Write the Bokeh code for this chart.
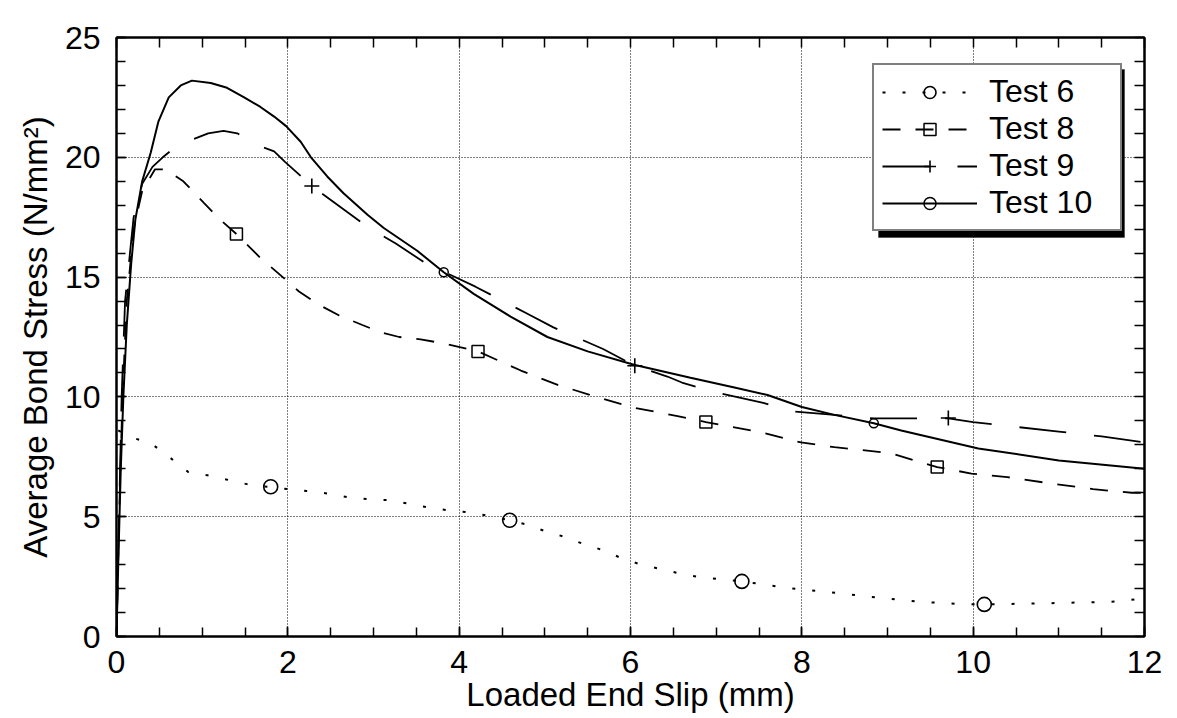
from bokeh.plotting import figure
from bokeh.models import LinearAxis, Legend, LegendItem, FixedTicker, Range1d, BoxAnnotation
from bokeh.embed import file_html
from bokeh.resources import INLINE

# ---- data ----
x_ticks = [0, 2, 4, 6, 8, 10, 12]
y_ticks = [0, 5, 10, 15, 20, 25]

test6_x = [0.02, 0.18, 0.4, 0.63, 0.84, 1.06, 1.31, 1.52, 1.8, 2.22, 2.44, 2.69, 2.93, 3.17,
           3.39, 3.62, 3.86, 4.08, 4.31, 4.59, 4.77, 5.01, 5.21, 5.46, 5.68, 5.9, 6.15, 6.38,
           6.61, 6.83, 7.07, 7.3, 7.54, 7.77, 7.99, 8.5, 9.0, 9.37, 9.82, 10.13, 10.76, 11.26,
           11.69, 12.0]
test6_y = [8.6, 8.3, 8.07, 7.45, 6.86, 6.73, 6.53, 6.36, 6.23, 6.07, 5.98, 5.82, 5.73, 5.69,
           5.56, 5.4, 5.27, 5.19, 5.06, 4.85, 4.69, 4.39, 4.18, 3.85, 3.6, 3.26, 2.97, 2.8,
           2.59, 2.47, 2.38, 2.3, 2.18, 2.05, 1.97, 1.78, 1.58, 1.45, 1.36, 1.34, 1.38, 1.42,
           1.46, 1.6]
test6_mx = [1.8, 4.59, 7.3, 10.13]
test6_my = [6.25, 4.85, 2.3, 1.34]

test8_x = [0, 0.03, 0.07, 0.12, 0.2, 0.3, 0.45, 0.57, 0.78, 1.02, 1.21, 1.4, 1.68, 1.94, 2.13,
           2.36, 2.6, 2.87, 3.08, 3.3, 3.55, 3.79, 4.22, 4.72, 5.15, 5.65, 6.04, 6.55, 6.88,
           7.49, 7.99, 8.38, 9.04, 9.3, 9.58, 9.98, 10.4, 10.88, 11.4, 11.85, 12.0]
test8_y = [0, 5, 10, 14, 17, 18.6, 19.5, 19.5, 19.0, 18.1, 17.4, 16.8, 15.8, 15.0, 14.4,
           13.85, 13.4, 13.0, 12.7, 12.5, 12.4, 12.25, 11.9, 11.1, 10.5, 9.95, 9.55, 9.2, 8.95,
           8.55, 8.1, 7.9, 7.65, 7.36, 7.07, 6.8, 6.65, 6.4, 6.15, 6.0, 6.0]
test8_mx = [1.4, 4.22, 6.88, 9.58]
test8_my = [16.8, 11.9, 8.95, 7.07]

test9_x = [0, 0.03, 0.06, 0.1, 0.2, 0.3, 0.42, 0.54, 0.71, 0.86, 1.07, 1.25, 1.41, 1.65, 1.84,
           1.97, 2.28, 2.93, 3.26, 3.6, 4.19, 4.78, 5.1, 5.68, 6.05, 6.43, 6.6, 6.98, 7.55,
           7.87, 8.38, 8.85, 9.3, 9.71, 10.0, 10.5, 11.0, 11.5, 12.0]
test9_y = [0, 5, 10, 14, 17.5, 18.9, 19.6, 20.0, 20.5, 20.7, 21.0, 21.1, 21.0, 20.5, 20.25,
           19.8, 18.8, 17.1, 16.4, 15.6, 14.6, 13.5, 12.9, 12.0, 11.3, 10.85, 10.6, 10.2, 9.75,
           9.4, 9.25, 9.1, 9.1, 9.1, 8.95, 8.75, 8.55, 8.35, 8.1]
test9_mx = [2.28, 6.05, 9.71]
test9_my = [18.8, 11.3, 9.12]

test10_x = [0, 0.02, 0.05, 0.08, 0.12, 0.17, 0.22, 0.3, 0.4, 0.49, 0.61, 0.75, 0.88, 1.1, 1.29,
            1.49, 1.68, 1.84, 1.98, 2.15, 2.27, 2.46, 2.65, 2.93, 3.12, 3.51, 3.82, 4.17, 4.6,
            5.03, 5.5, 6.04, 6.7, 7.2, 7.6, 8.0, 8.38, 8.84, 9.16, 10.06, 11.0, 12.0]
test10_y = [0, 3, 7, 10, 13, 15.5, 17.4, 19.0, 20.2, 21.5, 22.5, 23.0, 23.2, 23.1, 22.9,
            22.5, 22.1, 21.7, 21.3, 20.65, 20.0, 19.2, 18.5, 17.6, 17.05, 16.1, 15.2, 14.3, 13.35,
            12.5, 11.9, 11.34, 10.8, 10.4, 10.08, 9.58, 9.25, 8.9, 8.6, 7.85, 7.35, 7.0]
test10_mx = [3.82, 8.84]
test10_my = [15.2, 8.9]

labels = ["Test 6", "Test 8", "Test 9", "Test 10"]

FONT = "Liberation Sans"
TICK_FS = "32px"
LABEL_FS = "33px"
LEG_FS = "32px"

p = figure(width=1170, height=716, x_range=Range1d(0, 12), y_range=Range1d(0, 25),
           output_backend="svg", toolbar_location=None,
           min_border_left=116, min_border_top=37, min_border_right=26, min_border_bottom=80)
p.background_fill_color = "white"
p.border_fill_color = "white"
p.outline_line_color = "black"
p.outline_line_width = 2

x_minor = [i * 0.5 for i in range(25)]
y_minor = list(range(26))
xt = FixedTicker(ticks=x_ticks, minor_ticks=x_minor)
yt = FixedTicker(ticks=y_ticks, minor_ticks=y_minor)

def style_axis(ax):
    ax.axis_line_color = "black"
    ax.axis_line_width = 2
    ax.major_tick_in = 10
    ax.major_tick_out = 0
    ax.minor_tick_in = 9
    ax.minor_tick_out = 0
    ax.major_tick_line_width = 1.5
    ax.minor_tick_line_width = 1.5
    ax.major_tick_line_color = "black"
    ax.minor_tick_line_color = "black"
    ax.major_label_text_font = FONT
    ax.major_label_text_color = "black"
    ax.major_label_text_font_size = TICK_FS
    ax.axis_label_text_font = FONT
    ax.axis_label_text_font_style = "normal"
    ax.axis_label_text_color = "black"
    ax.axis_label_text_font_size = LABEL_FS

p.xaxis.ticker = xt
p.yaxis.ticker = yt
style_axis(p.xaxis[0])
style_axis(p.yaxis[0])
p.xaxis.axis_label = "Loaded End Slip (mm)"
p.yaxis.axis_label = "Average Bond Stress (N/mm\u00b2)"
p.xaxis.major_label_standoff = 14
p.xaxis.axis_label_standoff = 0
p.yaxis.major_label_standoff = 16
p.yaxis.axis_label_standoff = 8

# mirrored tick marks on top and right (all as minor ticks, so no labels)
top_ax = LinearAxis(ticker=FixedTicker(ticks=[], minor_ticks=x_minor))
right_ax = LinearAxis(ticker=FixedTicker(ticks=[], minor_ticks=y_minor))
style_axis(top_ax)
style_axis(right_ax)
top_ax.minor_tick_in = 10
right_ax.minor_tick_in = 10
p.add_layout(top_ax, "above")
p.add_layout(right_ax, "right")

for g in (p.xgrid, p.ygrid):
    g.grid_line_color = "black"
    g.grid_line_width = 1
    g.grid_line_dash = "1 2"
p.xgrid.ticker = xt
p.ygrid.ticker = yt

# ---- series ----
l6 = p.line(test6_x, test6_y, line_color="black", line_width=2, line_dash="3 17")
m6 = p.scatter(test6_mx, test6_my, marker="circle", size=14, fill_color=None,
               line_color="black", line_width=1.6)
l8 = p.line(test8_x, test8_y, line_color="black", line_width=1.8, line_dash="18 15")
m8 = p.scatter(test8_mx, test8_my, marker="square", size=12, fill_color=None,
               line_color="black", line_width=1.5)
l9 = p.line(test9_x, test9_y, line_color="black", line_width=1.8, line_dash="47 28")
m9 = p.scatter(test9_mx, test9_my, marker="cross", size=15, fill_color=None,
               line_color="black", line_width=1.6)
l10 = p.line(test10_x, test10_y, line_color="black", line_width=2)
m10 = p.scatter(test10_mx, test10_my, marker="circle", size=9, fill_color=None,
                line_color="black", line_width=1.5)

rends = [[l6, m6], [l8, m8], [l9, m9], [l10, m10]]

# legend geometry (screen px relative to the plot frame)
LEG_PAD = 8
LEG_GLYPH_W = 95
LEG_STANDOFF = 12
LEG_LABEL_W = 123
LEG_W = 2 * LEG_PAD + LEG_GLYPH_W + LEG_STANDOFF + LEG_LABEL_W
LEG_H = 168
LEG_X, LEG_Y = 756, 405
SHADOW = 6

shadow = BoxAnnotation(left=LEG_X + SHADOW, right=LEG_X + LEG_W + SHADOW,
                       bottom=LEG_Y - SHADOW, top=LEG_Y + LEG_H - SHADOW,
                       left_units="screen", right_units="screen",
                       bottom_units="screen", top_units="screen",
                       fill_color="black", fill_alpha=1.0, line_color="black")
p.add_layout(shadow)

items = [LegendItem(label=lab, renderers=r) for lab, r in zip(labels, rends)]
lg = Legend(items=items, location=(LEG_X, LEG_Y), orientation="vertical")
lg.label_text_font = FONT
lg.label_text_font_size = LEG_FS
lg.label_text_color = "black"
lg.glyph_width = LEG_GLYPH_W
lg.glyph_height = 30
lg.label_height = 30
lg.label_width = LEG_LABEL_W
lg.label_standoff = LEG_STANDOFF
lg.spacing = 0
lg.padding = LEG_PAD
lg.margin = 0
lg.border_line_color = "black"
lg.border_line_width = 2.5
lg.background_fill_color = "white"
lg.background_fill_alpha = 1.0
p.add_layout(lg, "center")

open("out.html", "w").write(file_html(p, INLINE))
